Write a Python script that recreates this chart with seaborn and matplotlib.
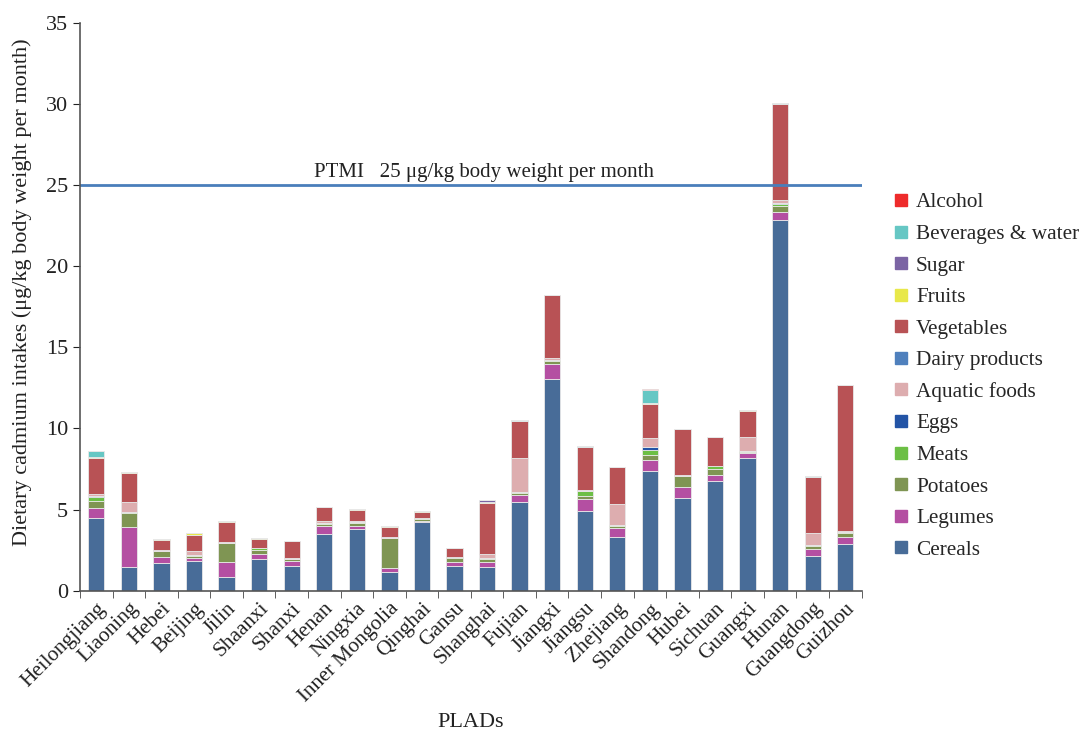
import numpy as np
import pandas as pd
import matplotlib
matplotlib.use('Agg')
import matplotlib.pyplot as plt
import seaborn as sns
from matplotlib.lines import Line2D

# provinces, left to right
provinces = ['Heilongjiang', 'Liaoning', 'Hebei', 'Beijing', 'Jilin', 'Shaanxi', 'Shanxi',
             'Henan', 'Ningxia', 'Inner Mongolia', 'Qinghai', 'Gansu', 'Shanghai', 'Fujian',
             'Jiangxi', 'Jiangsu', 'Zhejiang', 'Shandong', 'Hubei', 'Sichuan', 'Guangxi',
             'Hunan', 'Guangdong', 'Guizhou']

# cadmium intake by food group (ug/kg bw per month)
cereals = [4.48, 1.46, 1.68, 1.81, 0.82, 1.95, 1.50, 3.47, 3.80, 1.13, 4.21, 1.54,
           1.46, 5.44, 13.06, 4.89, 3.31, 7.35, 5.69, 6.73, 8.17, 22.86, 2.16, 2.85]
legumes = [0.59, 2.44, 0.39, 0.22, 0.93, 0.29, 0.33, 0.53, 0.16, 0.27, 0.10, 0.21,
           0.31, 0.43, 0.94, 0.78, 0.55, 0.68, 0.70, 0.42, 0.31, 0.45, 0.41, 0.46]
potatoes = [0.43, 0.89, 0.35, 0.14, 1.17, 0.29, 0.12, 0.13, 0.19, 1.82, 0.12, 0.24,
            0.20, 0.15, 0.13, 0.18, 0.10, 0.33, 0.65, 0.35, 0.08, 0.41, 0.16, 0.24]
meats = [0.27, 0.03, 0.03, 0.04, 0.05, 0.08, 0.02, 0.07, 0.10, 0.03, 0.03, 0.07,
         0.06, 0.04, 0.10, 0.29, 0.12, 0.31, 0.02, 0.16, 0.04, 0.13, 0.07, 0.08]
eggs = [0.08, 0, 0, 0, 0, 0, 0, 0, 0, 0, 0, 0,
        0, 0, 0, 0, 0, 0.18, 0, 0, 0, 0.02, 0, 0]
aquatic = [0.08, 0.66, 0.05, 0.22, 0.05, 0.03, 0.02, 0.09, 0.05, 0.06, 0.04, 0.02,
           0.23, 2.11, 0.08, 0.04, 1.28, 0.56, 0.06, 0.03, 0.89, 0.18, 0.73, 0.02]
dairy = [0.05, 0, 0, 0, 0, 0, 0, 0, 0, 0, 0, 0,
         0, 0, 0, 0, 0, 0, 0, 0, 0, 0, 0, 0]
vegetables = [2.20, 1.77, 0.65, 1.03, 1.19, 0.57, 1.05, 0.84, 0.68, 0.63, 0.37, 0.55,
              3.14, 2.26, 3.89, 2.67, 2.26, 2.07, 2.86, 1.78, 1.58, 5.93, 3.45, 9.04]
fruits = [0.08, 0.05, 0.04, 0.08, 0.10, 0.03, 0, 0.03, 0.03, 0.04, 0.04, 0.02,
          0.06, 0.05, 0.04, 0, 0.03, 0.10, 0, 0, 0.05, 0, 0, 0]
sugar = [0, 0, 0, 0, 0, 0, 0, 0, 0, 0, 0, 0,
         0.12, 0, 0, 0, 0, 0, 0, 0, 0, 0, 0, 0]
beverages = [0.35, 0, 0, 0, 0, 0, 0, 0, 0, 0, 0, 0,
             0.03, 0.02, 0, 0.05, 0, 0.79, 0, 0, 0.03, 0.06, 0.11, 0]
alcohol = [0.02, 0, 0, 0, 0, 0, 0, 0, 0, 0, 0, 0,
           0, 0, 0, 0, 0, 0.06, 0, 0, 0, 0, 0, 0]

groups = ['Cereals', 'Legumes', 'Potatoes', 'Meats', 'Eggs', 'Aquatic foods',
          'Dairy products', 'Vegetables', 'Fruits', 'Sugar', 'Beverages & water', 'Alcohol']
colors = ['#486c98', '#b44fa2', '#7f9553', '#6cbf45', '#2354a6', '#ddadaf',
          '#4f80bd', '#b85255', '#e8e84a', '#7b64a4', '#66c7c4', '#ee2b2b']

df = pd.DataFrame({'province': provinces, 'Cereals': cereals, 'Legumes': legumes,
                   'Potatoes': potatoes, 'Meats': meats, 'Eggs': eggs,
                   'Aquatic foods': aquatic, 'Dairy products': dairy,
                   'Vegetables': vegetables, 'Fruits': fruits, 'Sugar': sugar,
                   'Beverages & water': beverages, 'Alcohol': alcohol})

sns.set_style('ticks')
plt.rcParams['font.family'] = ['Liberation Serif', 'DejaVu Serif']

fig = plt.figure(figsize=(10.81, 7.32), dpi=100)
ax = fig.add_axes([0.074, 0.193, 0.723, 0.776])

bottom = np.zeros(len(provinces))
for g, c in zip(groups, colors):
    sns.barplot(data=df, x='province', y=g, bottom=bottom, color=c, width=0.5,
                edgecolor='#e8e8e8', linewidth=0.6, saturation=1, ax=ax)
    bottom = bottom + df[g].values

# PTMI reference line
ax.axhline(25, color='#4a7ebb', lw=2)
ax.text(11.9, 25.2, 'PTMI   25 \u03bcg/kg body weight per month', ha='center', va='bottom',
        fontsize=15, color='#222222')

ax.set_xlim(-0.5, len(provinces) - 0.5)
ax.set_ylim(0, 35)
ax.set_yticks(range(0, 36, 5))
ax.tick_params(axis='y', labelsize=16, colors='#222222', direction='out', length=5)
ax.set_xticks(range(len(provinces)))
ax.set_xticklabels(provinces, rotation=45, ha='right', rotation_mode='anchor',
                   fontsize=15.3, color='#222222')
ax.tick_params(axis='x', which='major', length=0, pad=6)
ax.set_xticks(np.arange(-0.5, len(provinces), 1.0), minor=True)
ax.tick_params(axis='x', which='minor', length=5, color='#444444')

ax.set_xlabel('PLADs', fontsize=16, color='#222222')
ax.set_ylabel('Dietary cadmium intakes (\u03bcg/kg body weight per month)', fontsize=16,
              color='#222222', labelpad=6)
ax.xaxis.set_label_coords(0.5, -0.215)
ax.yaxis.set_label_coords(-0.062, 0.525)

sns.despine(ax=ax)
for s in ['left', 'bottom']:
    ax.spines[s].set_color('#555555')
    ax.spines[s].set_linewidth(1.2)

handles = [Line2D([0], [0], marker='s', linestyle='', color=c, markersize=8)
           for c in colors[::-1]]
fig.legend(handles, groups[::-1], loc='upper left', bbox_to_anchor=(0.807, 0.763),
           frameon=False, fontsize=15.3, handletextpad=0.25, labelspacing=0.55,
           handlelength=0.9)

fig.savefig('out.png', dpi=100)
